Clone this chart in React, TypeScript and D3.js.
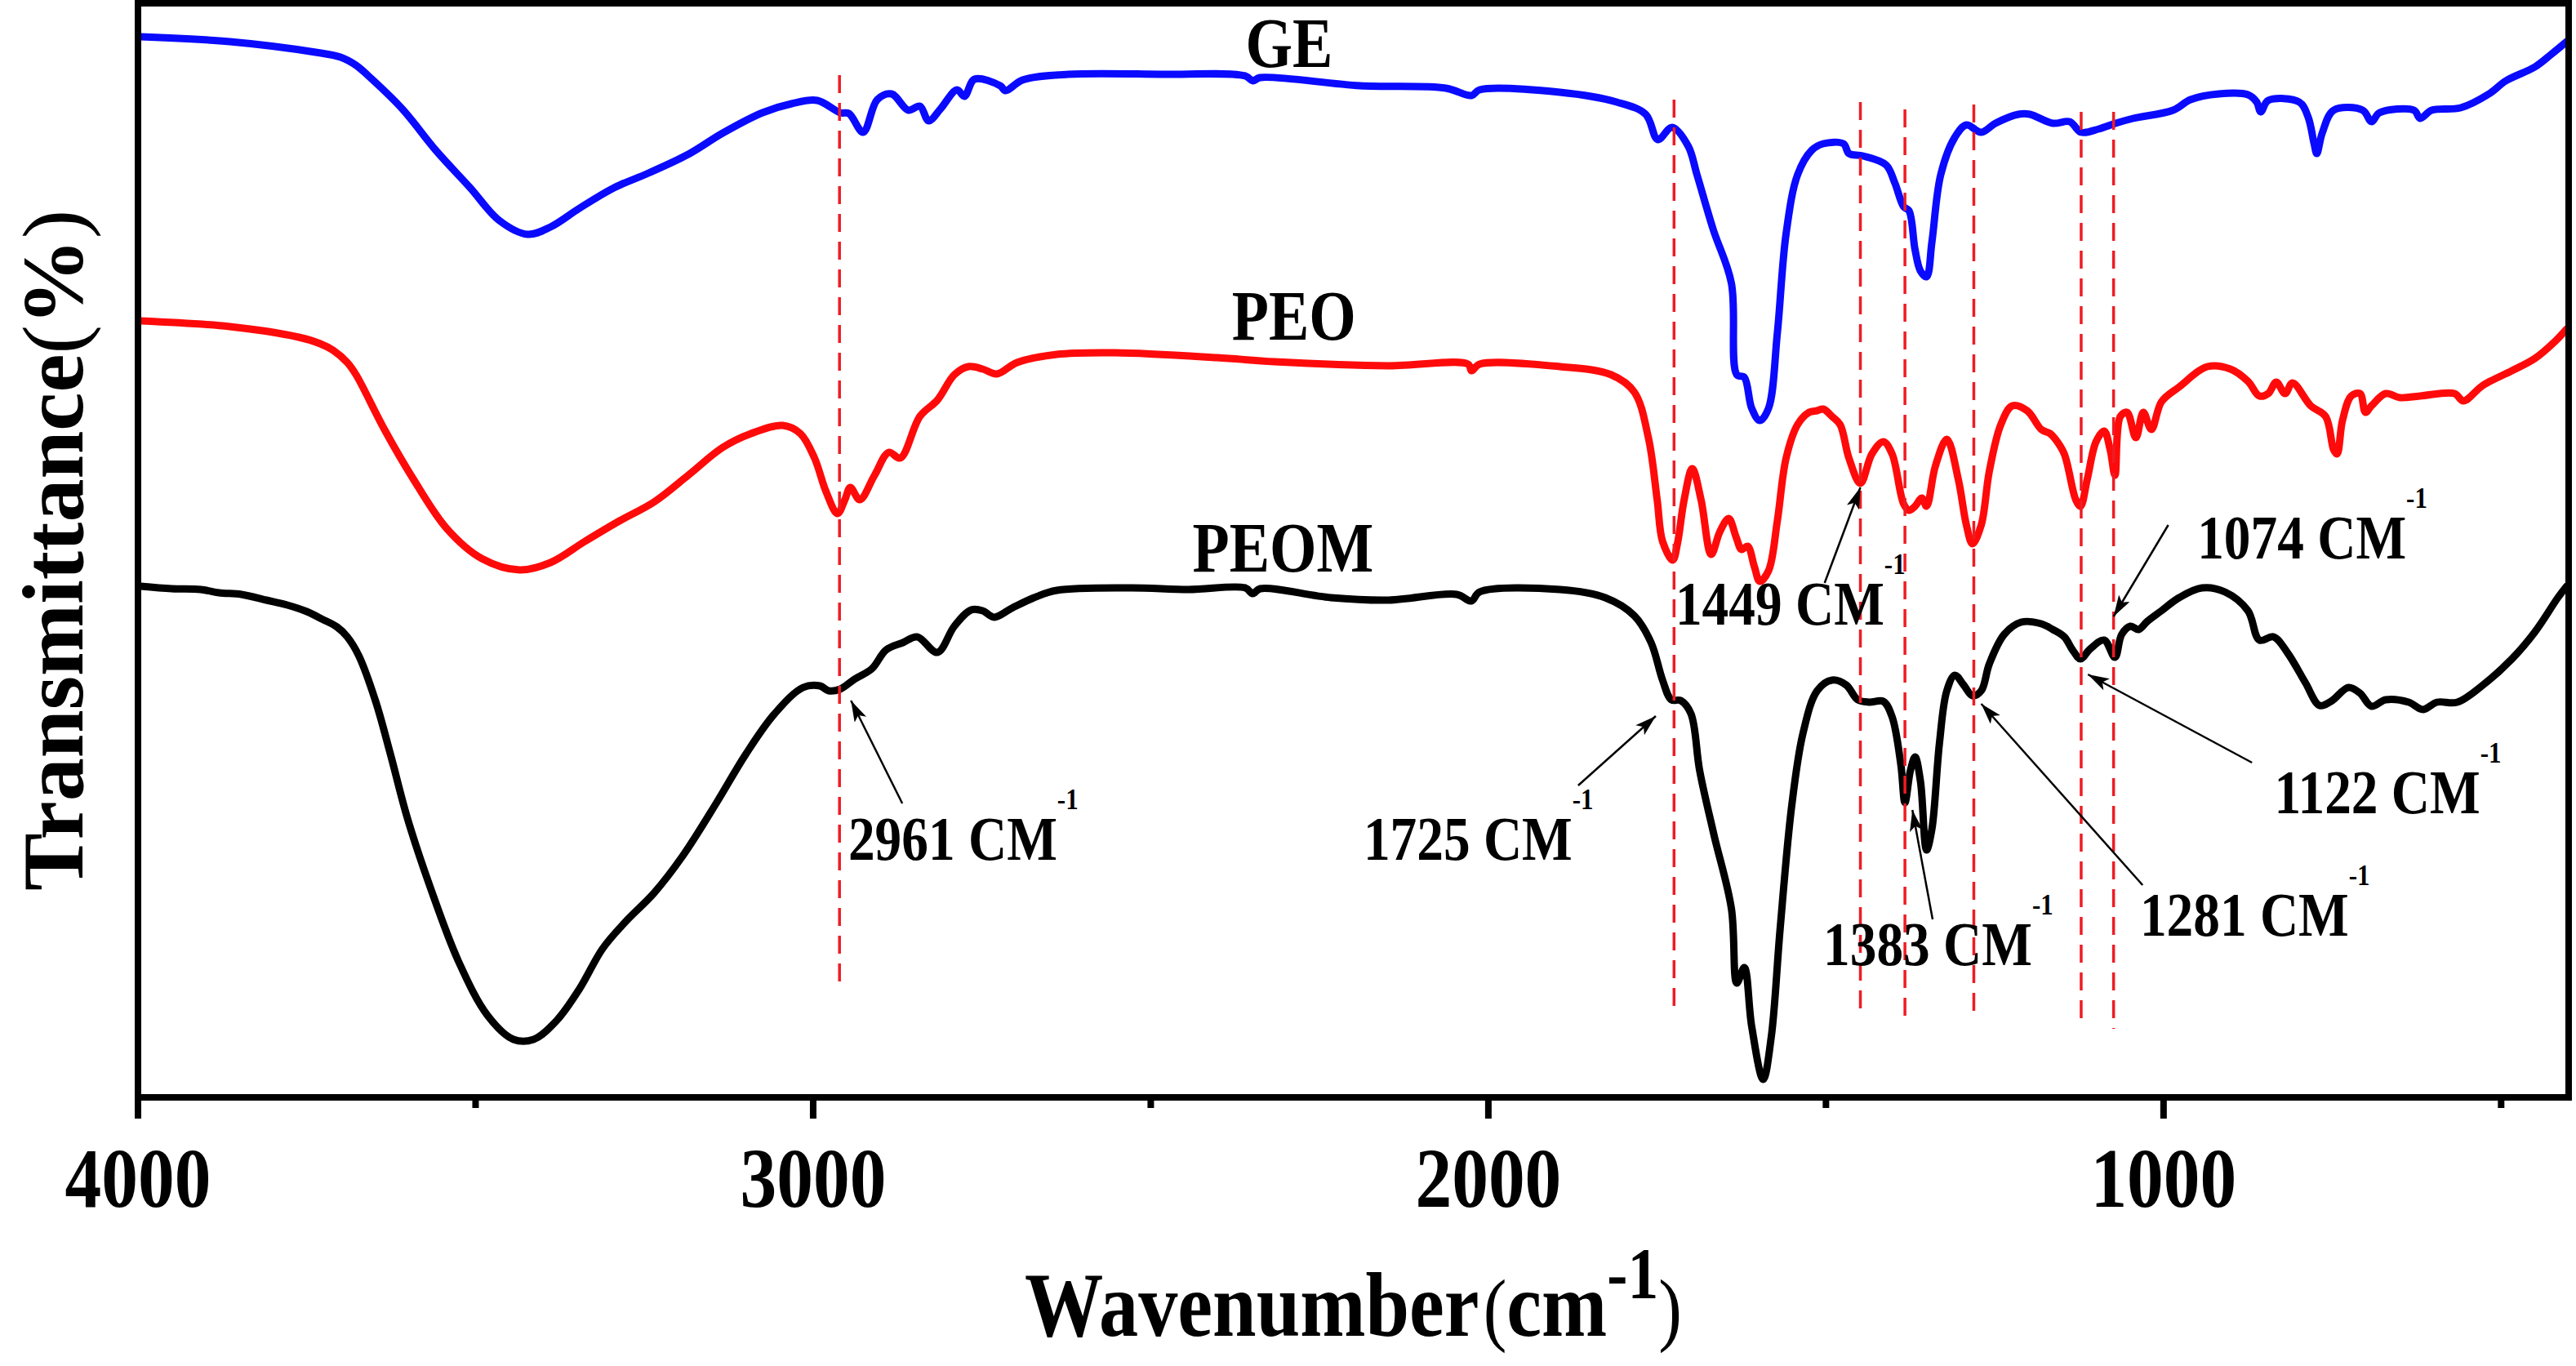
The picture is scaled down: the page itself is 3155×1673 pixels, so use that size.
import { useEffect } from 'react';
import * as d3 from 'd3';

type Pt = [number, number];

// FTIR spectra: [wavenumber cm-1, transmittance a.u. (offset stacked)]
const geData: Pt[] = [
  [3996, 129.9], [3864, 129.3], [3737, 128.0], [3700, 127.4], [3677, 126.4], [3660, 125.2], [3609, 121.1],
  [3559, 116.0], [3508, 111.4], [3465, 107.4], [3423, 105.7], [3389, 106.6], [3346, 108.9], [3295, 111.4],
  [3244, 113.2], [3185, 115.5], [3134, 118.1], [3075, 120.6], [3032, 121.7], [2994, 122.1], [2960, 120.6],
  [2947, 120.5], [2926, 118.2], [2905, 122.2], [2884, 122.9], [2859, 120.9], [2842, 121.4], [2829, 119.6],
  [2812, 121.0], [2787, 123.4], [2776, 122.6], [2761, 124.7], [2723, 123.9], [2715, 123.3], [2690, 124.6],
  [2622, 125.3], [2486, 125.3], [2360, 125.1], [2349, 124.5], [2338, 124.9], [2190, 123.9], [2063, 123.6],
  [2025, 122.7], [2013, 123.4], [1894, 123.1], [1810, 121.9], [1767, 120.4], [1749, 117.3], [1728, 118.8],
  [1704, 116.5], [1691, 113.0], [1667, 106.3], [1640, 99.7], [1632, 88.5], [1621, 88.2], [1610, 84.4],
  [1598, 82.9], [1585, 84.4], [1572, 93.6], [1559, 105.8], [1542, 113.0], [1521, 116.0], [1504, 116.8],
  [1474, 116.8], [1466, 115.6], [1445, 115.3], [1411, 114.2], [1398, 112.0], [1385, 109.1], [1377, 108.6],
  [1368, 103.8], [1360, 101.2], [1351, 100.5], [1343, 104.8], [1330, 113.0], [1309, 117.6], [1292, 119.1],
  [1270, 118.2], [1249, 119.3], [1215, 120.4], [1198, 120.4], [1164, 119.3], [1139, 119.5], [1122, 118.2],
  [1096, 118.6], [1071, 119.3], [1045, 119.9], [986, 120.9], [960, 122.2], [918, 122.9], [875, 122.8],
  [862, 121.9], [856, 120.7], [845, 122.1], [799, 121.9], [786, 120.1], [777, 116.8], [773, 115.6],
  [765, 118.1], [748, 120.9], [705, 120.9], [692, 119.5], [680, 120.6], [629, 120.9], [620, 119.9],
  [603, 120.9], [560, 121.2], [518, 122.9], [493, 124.5], [450, 126.2], [425, 127.8], [403, 129.3],
];

const peoData: Pt[] = [
  [3996, 95.1], [3864, 94.4], [3762, 93.1], [3730, 92.3], [3711, 91.5], [3690, 90.0], [3677, 88.5],
  [3635, 81.8], [3592, 75.7], [3542, 69.6], [3491, 66.0], [3435, 64.6], [3389, 65.5], [3338, 68.1],
  [3287, 70.6], [3236, 72.9], [3185, 76.2], [3134, 79.6], [3092, 81.3], [3045, 82.3], [3019, 81.3],
  [2998, 78.3], [2981, 74.2], [2964, 71.5], [2953, 73.2], [2945, 74.7], [2931, 73.2], [2909, 76.2],
  [2888, 79.0], [2871, 78.3], [2842, 83.4], [2816, 85.4], [2791, 88.5], [2770, 89.5], [2749, 89.2],
  [2728, 88.6], [2698, 90.0], [2639, 91.0], [2554, 91.2], [2402, 90.6], [2317, 90.1], [2148, 89.6],
  [2030, 89.8], [2025, 89.0], [2013, 89.8], [1894, 89.5], [1818, 88.5], [1784, 86.4], [1763, 80.8],
  [1750, 73.2], [1742, 68.1], [1727, 65.8], [1720, 67.8], [1710, 73.2], [1698, 77.0], [1685, 73.2],
  [1670, 66.5], [1657, 69.3], [1644, 70.9], [1633, 68.6], [1625, 67.1], [1616, 67.5], [1606, 65.0],
  [1598, 63.2], [1585, 64.5], [1572, 70.6], [1559, 78.3], [1542, 82.4], [1525, 83.9], [1513, 84.1],
  [1504, 84.3], [1491, 83.4], [1479, 82.4], [1466, 78.3], [1449, 75.2], [1432, 78.8], [1415, 80.3],
  [1402, 78.8], [1385, 72.7], [1377, 71.9], [1368, 72.4], [1358, 73.4], [1351, 72.4], [1338, 77.3],
  [1321, 80.6], [1304, 75.7], [1292, 70.1], [1283, 67.8], [1270, 70.1], [1258, 76.7], [1241, 82.4],
  [1224, 84.7], [1202, 84.1], [1181, 81.8], [1168, 81.3], [1160, 80.6], [1147, 78.8], [1130, 73.2],
  [1123, 72.4], [1113, 75.7], [1100, 80.3], [1088, 81.6], [1079, 79.3], [1072, 76.2], [1064, 83.4],
  [1054, 83.9], [1041, 80.8], [1030, 83.9], [1018, 81.8], [1003, 85.2], [977, 87.0], [935, 89.5],
  [901, 89.2], [875, 87.7], [858, 85.9], [845, 86.2], [833, 87.6], [820, 86.2], [809, 87.5],
  [782, 84.7], [760, 83.4], [748, 79.3], [743, 78.8], [735, 82.9], [722, 85.9], [709, 86.2],
  [701, 83.9], [692, 84.7], [671, 86.2], [650, 85.7], [620, 85.9], [569, 86.2], [556, 85.3],
  [527, 87.2], [484, 89.0], [450, 90.5], [420, 92.6], [403, 94.1],
];

const peomData: Pt[] = [
  [3996, 62.6], [3950, 62.3], [3907, 62.2], [3880, 61.8], [3847, 61.6], [3810, 60.9], [3779, 60.3],
  [3750, 59.5], [3728, 58.6], [3705, 57.6], [3690, 56.4], [3673, 54.1], [3648, 48.5], [3626, 42.0],
  [3601, 34.2], [3567, 25.7], [3525, 16.6], [3482, 10.0], [3444, 7.1], [3414, 7.1], [3380, 9.4],
  [3346, 13.3], [3312, 18.2], [3278, 21.5], [3236, 25.0], [3193, 29.6], [3143, 36.1], [3100, 42.0],
  [3058, 46.9], [3015, 50.2], [2990, 50.4], [2977, 49.8], [2960, 50.0], [2939, 51.2], [2913, 52.5],
  [2892, 54.8], [2867, 55.7], [2846, 56.4], [2816, 54.5], [2791, 57.7], [2766, 59.7], [2749, 59.6],
  [2732, 58.8], [2706, 59.9], [2673, 61.2], [2639, 62.1], [2529, 62.4], [2444, 62.2], [2360, 62.4],
  [2349, 61.7], [2338, 62.3], [2233, 61.2], [2148, 60.9], [2047, 61.6], [2025, 60.8], [2013, 61.9],
  [1894, 62.2], [1827, 61.2], [1784, 59.0], [1759, 55.7], [1742, 51.1], [1729, 48.7], [1715, 48.6],
  [1700, 47.0], [1687, 40.0], [1666, 32.2], [1640, 23.1], [1632, 14.0], [1621, 15.9], [1610, 8.7],
  [1593, 2.2], [1581, 7.4], [1568, 20.5], [1551, 35.5], [1534, 44.6], [1513, 49.8], [1491, 51.1],
  [1470, 50.5], [1453, 48.7], [1436, 48.4], [1415, 48.5], [1402, 46.6], [1389, 40.7], [1383, 36.1],
  [1375, 40.0], [1368, 41.7], [1360, 38.7], [1351, 30.3], [1343, 32.9], [1332, 43.3], [1321, 49.8],
  [1309, 51.7], [1296, 50.5], [1283, 49.2], [1270, 49.8], [1258, 53.1], [1236, 56.7], [1211, 58.2],
  [1181, 58.0], [1164, 57.3], [1147, 56.4], [1134, 54.7], [1123, 53.7], [1109, 54.9], [1088, 56.0],
  [1072, 53.9], [1062, 56.7], [1049, 57.7], [1037, 57.3], [1024, 58.3], [1003, 59.6], [977, 61.2],
  [943, 62.4], [909, 61.9], [875, 59.6], [858, 56.0], [837, 56.4], [816, 54.4], [790, 50.8],
  [769, 48.0], [752, 48.5], [726, 50.2], [709, 49.5], [692, 47.9], [671, 48.7], [637, 48.4],
  [616, 47.5], [595, 48.4], [565, 48.4], [527, 50.5], [484, 53.7], [450, 57.0], [416, 61.2],
  [403, 62.6],
];

const seriesNames = ['GE', 'PEO', 'PEOM'];
const seriesColors = ['#0a0aff', '#ff0a0a', '#000000'];
const seriesData = [geData, peoData, peomData];
// label anchor (wavenumber, value) for each series name
const seriesLabelAt: Pt[] = [[2295, 126.2], [2288, 92.8], [2304, 64.4]];

const majorTicks = [4000, 3000, 2000, 1000];
const minorTicks = [3500, 2500, 1500, 500];

// dashed marker lines: wavenumber, top value, bottom value
const markerWn = [2961, 1725, 1449, 1383, 1281, 1122, 1074];
const markerTop = [125.2, 122.2, 121.9, 121.0, 121.6, 120.7, 120.7];
const markerBottom = [13.3, 10.0, 9.7, 9.1, 9.7, 8.7, 8.4];

// peak annotations: label, arrow tip, arrow tail, label start (all in data units)
const annoLabels = ['2961 CM', '1725 CM', '1449 CM', '1074 CM', '1122 CM', '1281 CM', '1383 CM'];
const annoTip: Pt[] = [[2944, 48.6], [1752, 46.7], [1449, 74.7], [1074, 58.9], [1112, 51.8], [1270, 48.2], [1372, 35.2]];
const annoTail: Pt[] = [[2868, 36.0], [1867, 38.2], [1502, 63.0], [993, 70.1], [869, 41.0], [1031, 26.0], [1342, 21.8]];
const annoLabelAt: Pt[] = [[2948, 29.1], [2185, 29.1], [1723, 57.9], [950, 66.0], [836, 34.8], [1035, 19.8], [1504, 16.2]];

const W = 3155;
const H = 1673;
const margin = { left: 169, right: 9, top: 4, bottom: 329 };
const FONT = "'Liberation Serif', 'Times New Roman', serif";
const SX = 0.86;

const x = d3.scaleLinear().domain([4000, 400]).range([margin.left, W - margin.right]);
const y = d3.scaleLinear().domain([0, 134]).range([H - margin.bottom, margin.top]);

const line = d3
  .line<Pt>()
  .x(d => x(d[0]))
  .y(d => y(d[1]))
  .curve(d3.curveCatmullRom.alpha(0.5));

function Squeezed({ tx, ty, anchor = 'start', size, children }: any) {
  return (
    <g transform={`translate(${tx},${ty}) scale(${SX},1)`}>
      <text x={0} y={0} textAnchor={anchor} fontFamily={FONT} fontWeight="bold" fontSize={size} fill="#000">
        {children}
      </text>
    </g>
  );
}

export default function App() {
  useEffect(() => {
    document.body.style.margin = '0';
  }, []);

  const [x0, x1] = x.range();
  const [yb, yt] = y.range();

  return (
    <svg width={W} height={H} viewBox={`0 0 ${W} ${H}`} style={{ display: 'block', background: '#fff' }}>
      <defs>
        <marker id="arrowhead" markerUnits="userSpaceOnUse" markerWidth={30} markerHeight={20}
          refX={26} refY={8} orient="auto">
          <path d="M0,0 L26,8 L0,16 L6,8 Z" fill="#000" />
        </marker>
      </defs>

      {/* spectra */}
      {seriesData.map((data, i) => (
        <path key={seriesNames[i]} d={line(data) ?? ''} fill="none" stroke={seriesColors[i]}
          strokeWidth={9} strokeLinejoin="round" strokeLinecap="round" />
      ))}

      {/* dashed reference lines */}
      {markerWn.map((wn, i) => (
        <line key={wn} x1={x(wn)} x2={x(wn)} y1={y(markerTop[i])} y2={y(markerBottom[i])}
          stroke="#ee1c24" strokeWidth={3.5} strokeDasharray="22 12" />
      ))}

      {/* series names */}
      {seriesNames.map((name, i) => (
        <Squeezed key={name} tx={x(seriesLabelAt[i][0])} ty={y(seriesLabelAt[i][1])} anchor="middle" size={86}>
          {name}
        </Squeezed>
      ))}

      {/* annotations */}
      {annoLabels.map((lab, i) => (
        <g key={lab}>
          <line x1={x(annoTail[i][0])} y1={y(annoTail[i][1])} x2={x(annoTip[i][0])} y2={y(annoTip[i][1])}
            stroke="#000" strokeWidth={2.5} markerEnd="url(#arrowhead)" />
          <Squeezed tx={x(annoLabelAt[i][0])} ty={y(annoLabelAt[i][1])} size={76}>
            {lab}
            <tspan fontSize={36} dy={-62}>-1</tspan>
          </Squeezed>
        </g>
      ))}

      {/* frame */}
      <rect x={x0} y={yt} width={x1 - x0} height={yb - yt} fill="none" stroke="#000" strokeWidth={8} />

      {/* ticks */}
      {majorTicks.map(t => (
        <line key={t} x1={x(t)} x2={x(t)} y1={yb} y2={yb + 26} stroke="#000" strokeWidth={8} />
      ))}
      {minorTicks.map(t => (
        <line key={t} x1={x(t)} x2={x(t)} y1={yb} y2={yb + 13} stroke="#000" strokeWidth={8} />
      ))}
      {majorTicks.map(t => (
        <Squeezed key={`l${t}`} tx={x(t)} ty={yb + 134} anchor="middle" size={104}>
          {t}
        </Squeezed>
      ))}

      {/* x title */}
      <Squeezed tx={(x0 + x1) / 2} ty={yb + 292} anchor="middle" size={112}>
        Wavenumber
        <tspan fontWeight="normal" fontSize={100} dx={6}>(</tspan>
        <tspan>cm</tspan>
        <tspan fontSize={88} dy={-47}>-1</tspan>
        <tspan fontWeight="normal" fontSize={100} dy={47}>)</tspan>
      </Squeezed>

      {/* y title */}
      <text transform={`translate(101,${(yb + yt) / 2}) rotate(-90)`} textAnchor="middle"
        fontFamily={FONT} fontWeight="bold" fontSize={106} fill="#000">
        Transmittance
        <tspan fontWeight="normal">(</tspan>
        <tspan>%</tspan>
        <tspan fontWeight="normal">)</tspan>
      </text>
    </svg>
  );
}
